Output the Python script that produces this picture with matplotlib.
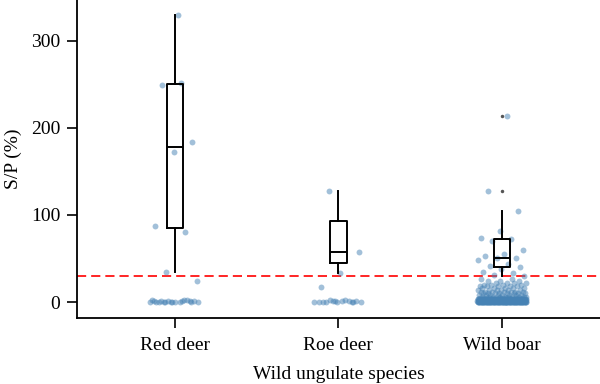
import numpy as np
import matplotlib.pyplot as plt

plt.rcParams['font.family'] = ['Liberation Serif', 'DejaVu Serif']

# ---------------- data ----------------
species = ["Red deer", "Roe deer", "Wild boar"]
cutoff = 30

red_deer = [0, 252, 249, 184, 172, 87, 80, 35, 24, 330,
            0, 1, 0, 2, 1, 0, 1, 0, 0, 2, 1, 0, 0, 1, 0, 0, 1, 2, 0]
roe_deer = [128, 57, 33, 17,
            0, 1, 0, 2, 0, 1, 0, 0, 1, 2, 0, 1, 0, 0, 1]
wild_boar_high = [214, 128, 104, 82, 74, 72, 70, 60, 55, 53, 51, 51,
                  48, 44, 41, 40, 38, 35, 33, 31, 30]
wild_boar_low_vals = [0, 1, 2, 3, 4, 5, 6, 8, 10, 12, 14, 16, 18, 20, 22, 24, 26]
wild_boar_low_counts = [90, 60, 40, 25, 18, 12, 10, 8, 8, 7, 6, 5, 5, 4, 4, 3, 2]

wild_boar = wild_boar_high + list(np.repeat(wild_boar_low_vals, wild_boar_low_counts))
groups = [red_deer, roe_deer, wild_boar]

# ---------------- plot ----------------
fig = plt.figure(figsize=(6, 3.84), dpi=100)
ax = fig.add_axes([0.128, 0.172, 0.872, 0.828])

for i, vals in enumerate(groups):
    vals = np.asarray(vals, dtype=float)
    # deterministic jitter of horizontal positions
    k = np.arange(len(vals))
    off = ((k * 0.6180339887 + 0.3 * i) % 1.0 - 0.5) * 0.3
    ax.scatter(i + off, vals, s=18, color="steelblue", alpha=0.5,
               linewidths=0, zorder=2)

# box plots of the positive samples (above cutoff)
pos = [[v for v in g if v >= cutoff] for g in groups]
ax.boxplot(pos, positions=range(3), widths=0.1, showcaps=False,
           boxprops=dict(color="black", linewidth=1.4),
           whiskerprops=dict(color="black", linewidth=1.4),
           medianprops=dict(color="black", linewidth=1.4),
           flierprops=dict(marker="o", markersize=2.5, markerfacecolor="#555555",
                           markeredgecolor="none"),
           zorder=3)

ax.axhline(cutoff, color="red", linestyle=(0, (5.5, 3)), linewidth=1.2, zorder=1)

ax.set_xlim(-0.6, 2.6)
ax.set_ylim(-18.2, 346.7)
ax.set_xticks(range(3))
ax.set_xticklabels(species)
ax.set_yticks([0, 100, 200, 300])
ax.set_xlabel("Wild ungulate species", fontsize=14, labelpad=8)
ax.set_ylabel("S/P (%)", fontsize=14, labelpad=6)
ax.tick_params(labelsize=14, length=7, width=1.2)
ax.tick_params(axis="x", pad=7)
ax.tick_params(axis="y", pad=5)
for s in ["top", "right"]:
    ax.spines[s].set_visible(False)
for s in ["left", "bottom"]:
    ax.spines[s].set_linewidth(1.3)

fig.savefig("out.png", dpi=100)
